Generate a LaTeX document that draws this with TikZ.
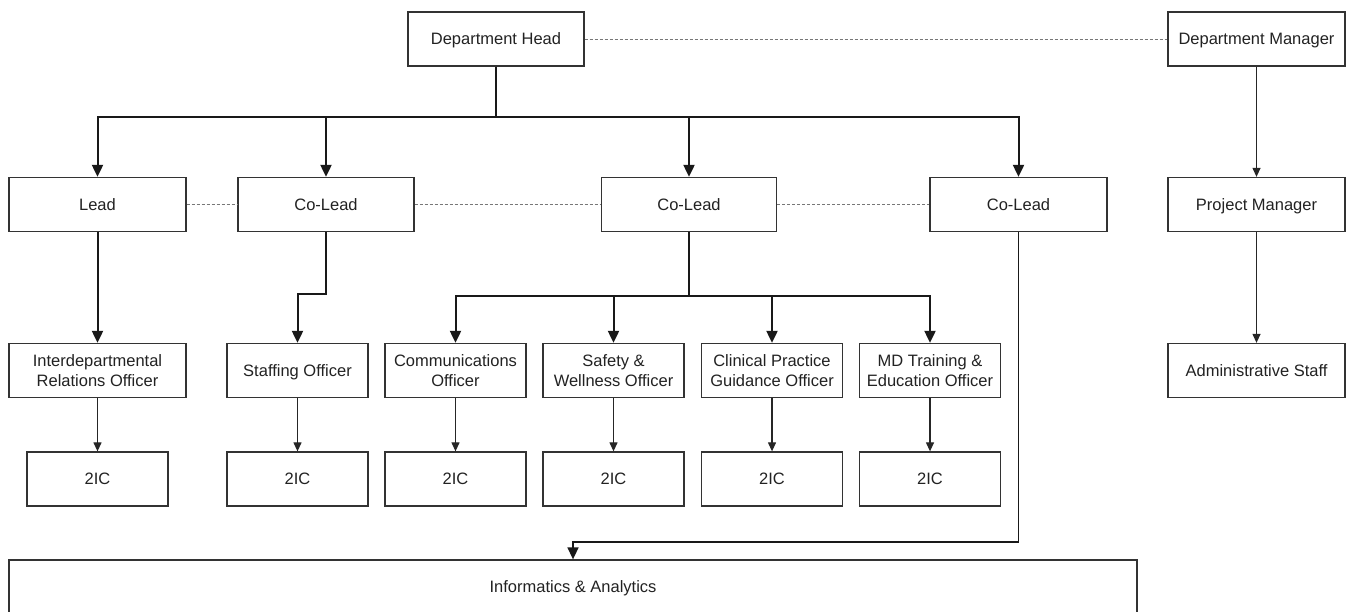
\documentclass[tikz,border=0pt]{standalone}
\usepackage{fontspec}
\setmainfont{Liberation Sans}
\usetikzlibrary{arrows.meta}
\definecolor{boxline}{HTML}{333333}
\definecolor{txt}{HTML}{222222}
\definecolor{dashc}{HTML}{777777}
\begin{document}
\begin{tikzpicture}[x=1pt,y=1pt,
  box/.style={draw=boxline,line width=1.3pt,rectangle,inner sep=0pt,minimum height=54pt,align=center,text=txt,font=\fontsize{16.5}{19.3}\selectfont},
  one/.style={text height=11.8pt,text depth=0pt},
  wide/.style={box,minimum width=177pt},
  narrow/.style={box,minimum width=141pt},
  thickconn/.style={draw=black!90,line width=2pt,-{Triangle[width=11pt,length=12pt]}},
  thinconn/.style={draw=black!85,line width=1.2pt,-{Triangle[width=8pt,length=9pt]}},
  dashconn/.style={draw=dashc,line width=1pt,dash pattern=on 3pt off 2pt}]
\useasboundingbox (0,0) rectangle (1348,-611);
% top
\node[wide,one,minimum width=176pt] (DH) at (496,-39) {Department Head};
\node[wide,one] (DM) at (1256.5,-39) {Department Manager};
% leads
\node[wide,one] (L) at (97.5,-204.5) {Lead};
\node[wide,one,minimum width=176pt] (C1) at (326,-204.5) {Co-Lead};
\node[wide,one,minimum width=175pt] (C2) at (689,-204.5) {Co-Lead};
\node[wide,one] (C3) at (1018.5,-204.5) {Co-Lead};
\node[wide,one] (PM) at (1256.5,-204.5) {Project Manager};
% officers
\node[wide] (IRO) at (97.5,-370.5) {Interdepartmental\\Relations Officer};
\node[narrow,one] (SO) at (297.5,-370.5) {Staffing Officer};
\node[narrow] (CO) at (455.5,-370.5) {Communications\\Officer};
\node[narrow] (SW) at (613.5,-370.5) {Safety \&\\Wellness Officer};
\node[narrow] (CP) at (772,-370.5) {Clinical Practice\\Guidance Officer};
\node[narrow] (MD) at (930,-370.5) {MD Training \&\\Education Officer};
\node[wide,one] (AS) at (1256.5,-370.5) {Administrative Staff};
% 2IC
\node[narrow,one] (T1) at (97.5,-479) {2IC};
\node[narrow,one] (T2) at (297.5,-479) {2IC};
\node[narrow,one] (T3) at (455.5,-479) {2IC};
\node[narrow,one] (T4) at (613.5,-479) {2IC};
\node[narrow,one] (T5) at (772,-479) {2IC};
\node[narrow,one] (T6) at (930,-479) {2IC};
% informatics
\node[box,one,minimum width=1128pt] (IA) at (573,-587) {Informatics \& Analytics};
% dashed
\draw[dashconn] (DH.east) -- (DM.west);
\draw[dashconn] (L.east) -- (C1.west);
\draw[dashconn] (C1.east) -- (C2.west);
\draw[dashconn] (C2.east) -- (C3.west);
% thick
\draw[thickconn] (DH.south) -- ++(0,-50) -| (L.north);
\draw[thickconn] (DH.south) -- ++(0,-50) -| (C1.north);
\draw[thickconn] (DH.south) -- ++(0,-50) -| (C2.north);
\draw[thickconn] (DH.south) -- ++(0,-50) -| (C3.north);
\draw[thickconn] (L.south) -- (IRO.north);
\draw[thickconn] (C1.south) -- ++(0,-62) -| (SO.north);
\draw[thickconn] (C2.south) -- ++(0,-64) -| (CO.north);
\draw[thickconn] (C2.south) -- ++(0,-64) -| (SW.north);
\draw[thickconn] (C2.south) -- ++(0,-64) -| (CP.north);
\draw[thickconn] (C2.south) -- ++(0,-64) -| (MD.north);
\draw[thickconn,line width=1.6pt] (C3.south) -- ++(0,-310) -| (IA.north);
% thin
\draw[thinconn] (DM.south) -- (PM.north);
\draw[thinconn] (PM.south) -- (AS.north);
\draw[thinconn] (IRO.south) -- (T1.north);
\draw[thinconn] (SO.south) -- (T2.north);
\draw[thinconn] (CO.south) -- (T3.north);
\draw[thinconn] (SW.south) -- (T4.north);
\draw[thinconn] (CP.south) -- (T5.north);
\draw[thinconn] (MD.south) -- (T6.north);
\end{tikzpicture}
\end{document}
